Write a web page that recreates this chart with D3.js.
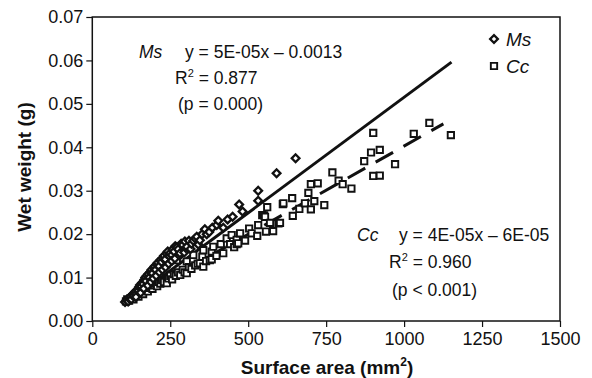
<!DOCTYPE html>
<html><head><meta charset="utf-8">
<script src="https://cdn.jsdelivr.net/npm/d3@7"></script>
<style>
body{margin:0;background:#fff;}
svg{display:block;font-family:"Liberation Sans",Arial,sans-serif;}
</style></head>
<body>
<svg id="chart" width="592" height="378"></svg>
<script>
// ---- data ----
const msX = [105,110,115,118,122,125,128,132,135,138,140,140,145,148,150,153,155,157,160,163,165,167,170,172,175,178,180,183,186,188,190,193,195,197,200,203,205,207,210,214,215,218,222,225,226,230,234,235,238,242,245,246,249,255,255,258,262,265,266,271,275,280,281,285,290,295,297,300,303,310,315,318,324,330,335,340,345,352,361,367,375,385,399,404,420,434,450,471,482,532,532,591,652];
const msY = [0.0044,0.0048,0.0045,0.0052,0.0056,0.0050,0.0060,0.0058,0.0064,0.0068,0.0062,0.0055,0.0072,0.0070,0.0078,0.0083,0.0065,0.0080,0.0088,0.0085,0.0075,0.0095,0.0100,0.0092,0.0104,0.0082,0.0108,0.0100,0.0113,0.0090,0.0118,0.0110,0.0098,0.0122,0.0126,0.0118,0.0104,0.0130,0.0134,0.0126,0.0112,0.0140,0.0136,0.0118,0.0145,0.0150,0.0142,0.0124,0.0155,0.0160,0.0132,0.0150,0.0156,0.0152,0.0138,0.0165,0.0160,0.0144,0.0172,0.0170,0.0165,0.0150,0.0156,0.0178,0.0175,0.0158,0.0183,0.0168,0.0171,0.0185,0.0166,0.0178,0.0185,0.0190,0.0194,0.0176,0.0186,0.0200,0.0211,0.0200,0.0205,0.0215,0.0221,0.0231,0.0215,0.0234,0.0240,0.0268,0.0252,0.0300,0.0277,0.0340,0.0375];

const ccX = [108,112,118,122,128,132,138,142,148,152,158,163,168,172,178,183,188,193,198,203,208,213,218,224,230,239,244,250,256,262,268,271,275,282,290,296,303,303,310,318,324,330,338,345,353,356,356,365,377,383,383,388,398,412,420,431,442,447,455,463,463,468,474,490,503,511,529,532,545,551,554,557,561,570,580,597,602,611,613,641,643,664,682,693,701,701,712,723,744,770,790,803,831,872,894,901,901,922,922,971,1031,1081,1150];
const ccY = [0.0045,0.0050,0.0047,0.0052,0.0055,0.0050,0.0058,0.0062,0.0056,0.0064,0.0068,0.0062,0.0070,0.0074,0.0068,0.0076,0.0080,0.0074,0.0082,0.0086,0.0080,0.0090,0.0086,0.0094,0.0090,0.0087,0.0098,0.0104,0.0096,0.0108,0.0104,0.0140,0.0112,0.0106,0.0118,0.0112,0.0110,0.0137,0.0124,0.0120,0.0152,0.0128,0.0132,0.0133,0.0148,0.0125,0.0163,0.0138,0.0140,0.0160,0.0142,0.0171,0.0150,0.0177,0.0156,0.0190,0.0177,0.0198,0.0170,0.0187,0.0177,0.0179,0.0202,0.0185,0.0213,0.0202,0.0196,0.0221,0.0244,0.0243,0.0240,0.0206,0.0262,0.0226,0.0207,0.0225,0.0226,0.0269,0.0271,0.0283,0.0242,0.0258,0.0271,0.0295,0.0315,0.0257,0.0276,0.0317,0.0267,0.0342,0.0323,0.0315,0.0305,0.0368,0.0388,0.0433,0.0334,0.0394,0.0335,0.0361,0.0431,0.0456,0.0428];

const msLineX = [105, 1152];
const msLineY = [0.0039, 0.0596];
const ccLineX = [105, 1126];
const ccLineY = [0.0039, 0.0454];

const xTicks = [0,250,500,750,1000,1250,1500];
const yTicks = [0,0.01,0.02,0.03,0.04,0.05,0.06,0.07];

// ---- chart ----
const svg = d3.select("#chart");
const x = d3.scaleLinear().domain([0,1500]).range([92.3,560]);
const y = d3.scaleLinear().domain([0,0.07]).range([321,17]);
const ink = "#111";

// axes
const gx = svg.append("g").attr("transform","translate(0,321)")
  .call(d3.axisBottom(x).tickValues(xTicks).tickSizeOuter(0).tickSize(6).tickPadding(5).tickFormat(d3.format("d")));
const gy = svg.append("g").attr("transform","translate(92.3,0)")
  .call(d3.axisLeft(y).tickValues(yTicks).tickSizeOuter(0).tickSize(6).tickPadding(3).tickFormat(d3.format(".2f")));
[gx,gy].forEach(g=>{
  g.selectAll("path").remove();
  g.selectAll("line").attr("stroke",ink).attr("stroke-width",1.2);
  g.selectAll("text").attr("fill",ink).style("font-size","18px").style("font-family","'Liberation Sans',Arial,sans-serif");
});
// frame
svg.append("rect").attr("x",x(0)).attr("y",y(0.07)).attr("width",x(1500)-x(0)).attr("height",y(0)-y(0.07))
  .attr("fill","none").attr("stroke",ink).attr("stroke-width",1.5);

// axis titles
svg.append("text").attr("x",327).attr("y",374).attr("text-anchor","middle")
  .style("font-size","19px").style("font-weight","bold").attr("fill",ink)
  .html('Surface area (mm<tspan dy="-8" style="font-size:12px">2</tspan><tspan dy="8">)</tspan>');
svg.append("text").attr("transform","translate(31,167) rotate(-90)").attr("text-anchor","middle")
  .style("font-size","19px").style("font-weight","bold").attr("fill",ink).text("Wet weight (g)");

// regression lines
const line = d3.line().x(d=>x(d[0])).y(d=>y(d[1]));
svg.append("path").datum(msLineX.map((v,i)=>[v,msLineY[i]])).attr("d",line)
  .attr("fill","none").attr("stroke",ink).attr("stroke-width",3);
svg.append("path").datum(ccLineX.map((v,i)=>[v,ccLineY[i]])).attr("d",line)
  .attr("fill","none").attr("stroke",ink).attr("stroke-width",3).attr("stroke-dasharray","20,12");

// markers
const diamond = d3.symbol().type(d3.symbolSquare).size(30);
const square = d3.symbol().type(d3.symbolSquare).size(40);
svg.append("g").selectAll("path").data(ccX.map((v,i)=>[v,ccY[i]])).join("path")
  .attr("d",square).attr("transform",d=>`translate(${x(d[0])},${y(d[1])})`)
  .attr("fill","#fff").attr("stroke",ink).attr("stroke-width",1.9);
svg.append("g").selectAll("path").data(msX.map((v,i)=>[v,msY[i]])).join("path")
  .attr("d",diamond).attr("transform",d=>`translate(${x(d[0])},${y(d[1])}) rotate(45)`)
  .attr("fill","#fff").attr("stroke",ink).attr("stroke-width",2.3);

// legend
svg.append("path").attr("d",diamond).attr("transform","translate(494,39) rotate(45)")
  .attr("fill","#fff").attr("stroke",ink).attr("stroke-width",2.3);
svg.append("text").attr("x",506).attr("y",46).style("font-size","19px").style("font-style","italic").attr("fill",ink).text("Ms");
svg.append("path").attr("d",square).attr("transform","translate(494,66)")
  .attr("fill","#fff").attr("stroke",ink).attr("stroke-width",1.9);
svg.append("text").attr("x",506).attr("y",73).style("font-size","19px").style("font-style","italic").attr("fill",ink).text("Cc");

// annotations
function ann(tx, ty, parts){
  parts.forEach(p=>{
    const t = svg.append("text").attr("x",tx+p.dx).attr("y",ty+p.dy).style("font-size","17.5px").attr("fill",ink);
    if(p.italic) t.style("font-style","italic");
    t.html(p.html);
  });
}
ann(139,58,[
  {dx:0,dy:0,html:"Ms",italic:true},
  {dx:46,dy:0,html:"y = 5E-05x \u2013 0.0013"},
  {dx:36,dy:26,html:'R<tspan dy="-7" style="font-size:11px">2</tspan><tspan dy="7"> = 0.877</tspan>'},
  {dx:39,dy:52,html:"(p = 0.000)"}
]);
ann(357,241,[
  {dx:0,dy:0,html:"Cc",italic:true},
  {dx:42,dy:0,html:"y = 4E-05x \u2013 6E-05"},
  {dx:32,dy:27,html:'R<tspan dy="-7" style="font-size:11px">2</tspan><tspan dy="7"> = 0.960</tspan>'},
  {dx:35,dy:55,html:"(p &lt; 0.001)"}
]);
</script>
</body></html>
